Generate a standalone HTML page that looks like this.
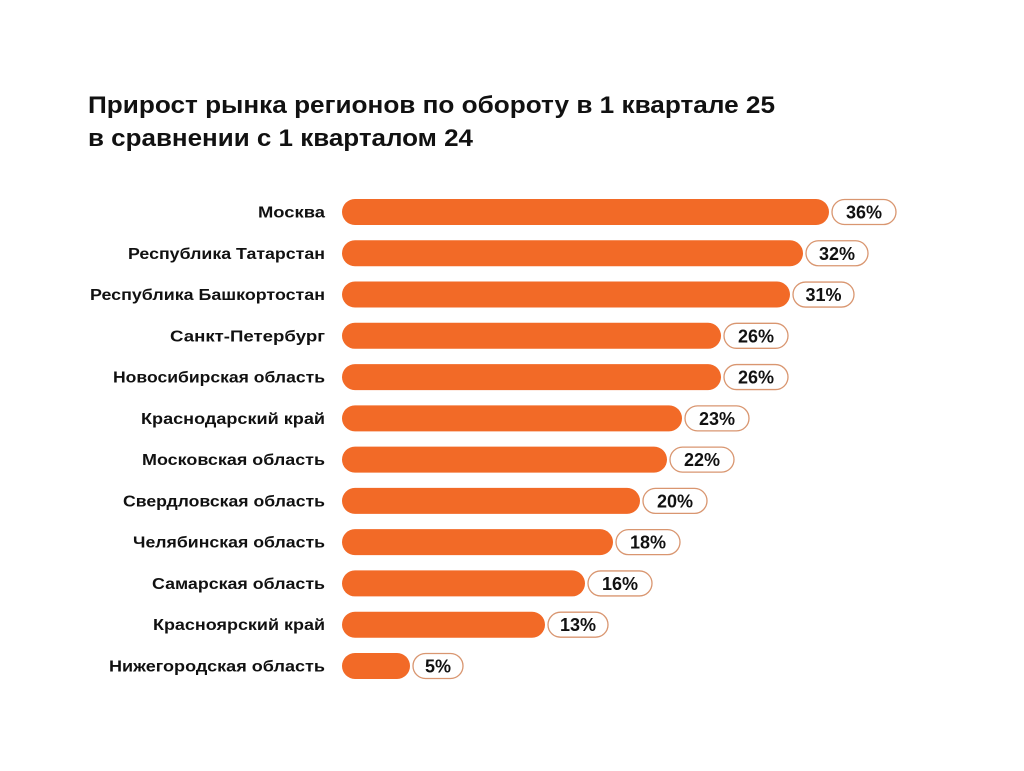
<!DOCTYPE html>
<html><head><meta charset="utf-8"><style>body{margin:0;background:#fff}svg{display:block}</style></head>
<body>
<svg width="1024" height="771" viewBox="0 0 1024 771" xmlns="http://www.w3.org/2000/svg" font-family="Liberation Sans, DejaVu Sans, sans-serif" font-weight="bold">
<rect width="1024" height="771" fill="#fff"/>
<text x="88" y="113" font-size="24.5" fill="#111" textLength="687" lengthAdjust="spacingAndGlyphs">Прирост рынка регионов по обороту в 1 квартале 25</text>
<text x="88" y="146" font-size="24.5" fill="#111" textLength="385" lengthAdjust="spacingAndGlyphs">в сравнении с 1 кварталом 24</text>
<g id="rows"></g>
</svg>
<script>
const d=[["Москва",258,829,"36%",64],["Республика Татарстан",128,803,"32%",62],["Республика Башкортостан",90,790,"31%",61],["Санкт-Петербург",170,721,"26%",64],["Новосибирская область",113,721,"26%",64],["Краснодарский край",141,682,"23%",64],["Московская область",142,667,"22%",64],["Свердловская область",123,640,"20%",64],["Челябинская область",133,613,"18%",64],["Самарская область",152,585,"16%",64],["Красноярский край",153,545,"13%",60],["Нижегородская область",109,410,"5%",50]];
let h="";
d.forEach((r,i)=>{const y=199+i*41.27;const c=y+13;
h+=`<text x="325" y="${c+5.5}" font-size="16" fill="#111" text-anchor="end" textLength="${325-r[1]}" lengthAdjust="spacingAndGlyphs">${r[0]}</text>`;
h+=`<rect x="342" y="${y}" width="${r[2]-342}" height="26" rx="13" fill="#f26a27"/>`;
const px=r[2]+3;
h+=`<rect x="${px}" y="${y+0.5}" width="${r[4]}" height="25" rx="12.5" fill="#fff" stroke="#d99670" stroke-width="1.3"/>`;
h+=`<text x="${px+r[4]/2}" y="${c+6.5}" font-size="18" fill="#111" text-anchor="middle">${r[3]}</text>`;});
document.getElementById("rows").innerHTML=h;
</script>
</body></html>
